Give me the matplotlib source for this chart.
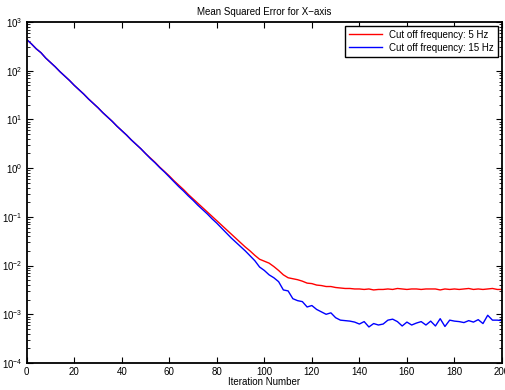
import numpy as np
import matplotlib
matplotlib.use("Agg")
import matplotlib.pyplot as plt
from matplotlib.ticker import LogLocator, MultipleLocator, NullFormatter

plt.rcParams['font.family'] = ['Liberation Sans', 'DejaVu Sans']
plt.rcParams['mathtext.fontset'] = 'custom'
plt.rcParams['mathtext.rm'] = 'Liberation Sans'
plt.rcParams['mathtext.it'] = 'Liberation Sans'

# iterations (every 2nd iteration)
iterations = list(range(0, 201, 2))

# log10 of mean squared error
mse_5hz_log10 = [
    2.64, 2.55, 2.45, 2.37, 2.26, 2.17, 2.08, 1.98, 1.89, 1.80,
    1.70, 1.61, 1.52, 1.42, 1.33, 1.24, 1.14, 1.05, 0.96, 0.86,
    0.77, 0.68, 0.58, 0.49, 0.40, 0.30, 0.21, 0.12, 0.02, -0.07,
    -0.16, -0.26, -0.35, -0.44, -0.54, -0.63, -0.72, -0.81, -0.90, -0.99,
    -1.08, -1.17, -1.26, -1.35, -1.44, -1.53, -1.62, -1.70, -1.79, -1.87,
    -1.91, -1.95, -2.02, -2.10, -2.19, -2.25, -2.27, -2.29, -2.32, -2.36,
    -2.37, -2.40, -2.41, -2.43, -2.43, -2.45, -2.46, -2.47, -2.47, -2.48,
    -2.48, -2.49, -2.48, -2.50, -2.49, -2.49, -2.48, -2.49, -2.47, -2.48,
    -2.49, -2.48, -2.48, -2.49, -2.48, -2.48, -2.48, -2.50, -2.48, -2.49,
    -2.48, -2.49, -2.48, -2.47, -2.49, -2.48, -2.49, -2.48, -2.47, -2.49,
    -2.49,
]

mse_15hz_log10 = [
    2.64, 2.55, 2.45, 2.37, 2.26, 2.17, 2.08, 1.98, 1.89, 1.80,
    1.70, 1.61, 1.52, 1.42, 1.33, 1.24, 1.14, 1.05, 0.96, 0.86,
    0.77, 0.68, 0.58, 0.49, 0.40, 0.30, 0.20, 0.11, 0.01, -0.08,
    -0.18, -0.28, -0.38, -0.47, -0.57, -0.66, -0.76, -0.85, -0.94, -1.04,
    -1.13, -1.23, -1.33, -1.43, -1.52, -1.61, -1.70, -1.80, -1.90, -2.03,
    -2.10, -2.19, -2.25, -2.33, -2.50, -2.52, -2.68, -2.72, -2.74, -2.85,
    -2.82, -2.90, -2.95, -3.00, -2.97, -3.07, -3.12, -3.13, -3.14, -3.16,
    -3.20, -3.15, -3.26, -3.19, -3.22, -3.20, -3.12, -3.10, -3.15, -3.24,
    -3.16, -3.22, -3.18, -3.15, -3.22, -3.14, -3.24, -3.09, -3.25, -3.12,
    -3.14, -3.15, -3.17, -3.13, -3.16, -3.11, -3.19, -3.02, -3.12, -3.12,
    -3.13,
]

series_labels = ['Cut off frequency: 5 Hz', 'Cut off frequency: 15 Hz']
series_colors = ['#ff0000', '#0000ff']

mse_5hz = 10.0 ** np.array(mse_5hz_log10)
mse_15hz = 10.0 ** np.array(mse_15hz_log10)

fig = plt.figure(figsize=(5.05, 3.90), dpi=100)
ax = fig.add_axes([0.0529, 0.0692, 0.9411, 0.8744])

ax.plot(iterations, mse_5hz, color=series_colors[0], lw=1.0, label=series_labels[0])
ax.plot(iterations, mse_15hz, color=series_colors[1], lw=1.0, label=series_labels[1])

ax.set_yscale('log')
ax.set_xlim(0, 200)
ax.set_ylim(1e-4, 1e3)
ax.xaxis.set_major_locator(MultipleLocator(20))
ax.yaxis.set_major_locator(LogLocator(base=10, numticks=20))
ax.yaxis.set_minor_locator(LogLocator(base=10, subs=np.arange(2, 10), numticks=20))
ax.yaxis.set_minor_formatter(NullFormatter())

ax.tick_params(which='both', direction='in', top=True, right=True, labelsize=7, pad=3)
ax.tick_params(which='major', length=4, width=0.8)
ax.tick_params(which='minor', length=2, width=0.6)
for s in ax.spines.values():
    s.set_linewidth(1.3)

ax.set_title('Mean Squared Error for X\u2212axis', fontsize=7, pad=5)
ax.set_xlabel('Iteration Number', fontsize=7, labelpad=0)

leg = ax.legend(loc='upper right', fontsize=7, fancybox=False, framealpha=1,
                edgecolor='black', borderaxespad=0.4, handlelength=3.4,
                borderpad=0.4, labelspacing=0.3)
leg.get_frame().set_linewidth(1.0)

fig.savefig('out.png', dpi=100)
